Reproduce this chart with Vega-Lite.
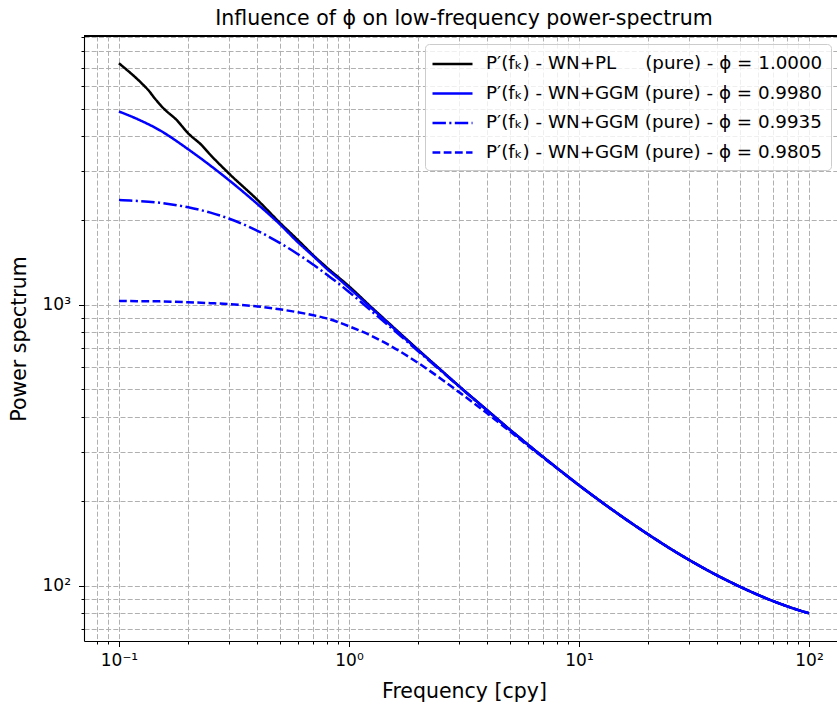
{
  "$schema": "https://vega.github.io/schema/vega-lite/v6.json",
  "width": 753,
  "height": 605,
  "autosize": {"type": "none"},
  "padding": {"left": 84, "top": 36, "right": 0, "bottom": 66},
  "background": "white",
  "config": {"view": {"stroke": null}, "font": "DejaVu Sans"},
  "title": {"text": "Influence of ϕ on low-frequency power-spectrum", "font": "DejaVu Sans", "fontSize": 20.5, "fontWeight": "normal", "color": "black", "offset": 8, "dx": 3.5, "dy": 9.5},
  "data": {"values": [
    {"s": "A", "f": 0.1, "P": 7245}, {"s": "A", "f": 0.1255, "P": 6150}, {"s": "A", "f": 0.134, "P": 5821}, {"s": "A", "f": 0.143, "P": 5439}, {"s": "A", "f": 0.156, "P": 5012}, {"s": "A", "f": 0.178, "P": 4553}, {"s": "A", "f": 0.2, "P": 4080}, {"s": "A", "f": 0.229, "P": 3700}, {"s": "A", "f": 0.249, "P": 3430}, {"s": "A", "f": 0.3, "P": 2942}, {"s": "A", "f": 0.4, "P": 2364}, {"s": "A", "f": 0.5, "P": 1963}, {"s": "A", "f": 0.6, "P": 1700}, {"s": "A", "f": 0.71, "P": 1485}, {"s": "A", "f": 0.8, "P": 1360}, {"s": "A", "f": 1, "P": 1165}, {"s": "A", "f": 1.25, "P": 982}, {"s": "A", "f": 1.5, "P": 857}, {"s": "A", "f": 2, "P": 692}, {"s": "A", "f": 2.5, "P": 588}, {"s": "A", "f": 3, "P": 515}, {"s": "A", "f": 4, "P": 421}, {"s": "A", "f": 5, "P": 360}, {"s": "A", "f": 6, "P": 318}, {"s": "A", "f": 8, "P": 263}, {"s": "A", "f": 10, "P": 228}, {"s": "A", "f": 13, "P": 194.4}, {"s": "A", "f": 16, "P": 172.3}, {"s": "A", "f": 20, "P": 152.3}, {"s": "A", "f": 25, "P": 135.4}, {"s": "A", "f": 30, "P": 123.8}, {"s": "A", "f": 40, "P": 108.7}, {"s": "A", "f": 50, "P": 99.3}, {"s": "A", "f": 60, "P": 92.8}, {"s": "A", "f": 70, "P": 88.1}, {"s": "A", "f": 80, "P": 84.6}, {"s": "A", "f": 90, "P": 81.9}, {"s": "A", "f": 100, "P": 79.8},
    {"s": "B", "f": 0.1, "P": 4880}, {"s": "B", "f": 0.12, "P": 4590}, {"s": "B", "f": 0.15, "P": 4190}, {"s": "B", "f": 0.2, "P": 3580}, {"s": "B", "f": 0.25, "P": 3130}, {"s": "B", "f": 0.3, "P": 2784}, {"s": "B", "f": 0.4, "P": 2285}, {"s": "B", "f": 0.5, "P": 1938}, {"s": "B", "f": 0.6, "P": 1670}, {"s": "B", "f": 0.7, "P": 1490}, {"s": "B", "f": 0.8, "P": 1345}, {"s": "B", "f": 0.9, "P": 1240}, {"s": "B", "f": 1, "P": 1150}, {"s": "B", "f": 1.25, "P": 975}, {"s": "B", "f": 1.5, "P": 852}, {"s": "B", "f": 2, "P": 689}, {"s": "B", "f": 2.5, "P": 587}, {"s": "B", "f": 3, "P": 514.5}, {"s": "B", "f": 4, "P": 420.5}, {"s": "B", "f": 5, "P": 359.5}, {"s": "B", "f": 6, "P": 318}, {"s": "B", "f": 8, "P": 263}, {"s": "B", "f": 10, "P": 228}, {"s": "B", "f": 13, "P": 194.4}, {"s": "B", "f": 16, "P": 172.3}, {"s": "B", "f": 20, "P": 152.3}, {"s": "B", "f": 25, "P": 135.4}, {"s": "B", "f": 30, "P": 123.8}, {"s": "B", "f": 40, "P": 108.7}, {"s": "B", "f": 50, "P": 99.3}, {"s": "B", "f": 60, "P": 92.8}, {"s": "B", "f": 70, "P": 88.1}, {"s": "B", "f": 80, "P": 84.6}, {"s": "B", "f": 90, "P": 81.9}, {"s": "B", "f": 100, "P": 79.8},
    {"s": "C", "f": 0.1, "P": 2360}, {"s": "C", "f": 0.12, "P": 2345}, {"s": "C", "f": 0.15, "P": 2310}, {"s": "C", "f": 0.2, "P": 2225}, {"s": "C", "f": 0.25, "P": 2130}, {"s": "C", "f": 0.3, "P": 2030}, {"s": "C", "f": 0.4, "P": 1835}, {"s": "C", "f": 0.5, "P": 1662}, {"s": "C", "f": 0.6, "P": 1515}, {"s": "C", "f": 0.7, "P": 1390}, {"s": "C", "f": 0.8, "P": 1282}, {"s": "C", "f": 0.9, "P": 1192}, {"s": "C", "f": 1, "P": 1112}, {"s": "C", "f": 1.25, "P": 952}, {"s": "C", "f": 1.5, "P": 838}, {"s": "C", "f": 2, "P": 684}, {"s": "C", "f": 2.5, "P": 584}, {"s": "C", "f": 3, "P": 513}, {"s": "C", "f": 4, "P": 419.5}, {"s": "C", "f": 5, "P": 359.5}, {"s": "C", "f": 6, "P": 318}, {"s": "C", "f": 8, "P": 263}, {"s": "C", "f": 10, "P": 228}, {"s": "C", "f": 13, "P": 194.4}, {"s": "C", "f": 16, "P": 172.3}, {"s": "C", "f": 20, "P": 152.3}, {"s": "C", "f": 25, "P": 135.4}, {"s": "C", "f": 30, "P": 123.8}, {"s": "C", "f": 40, "P": 108.7}, {"s": "C", "f": 50, "P": 99.3}, {"s": "C", "f": 60, "P": 92.8}, {"s": "C", "f": 70, "P": 88.1}, {"s": "C", "f": 80, "P": 84.6}, {"s": "C", "f": 90, "P": 81.9}, {"s": "C", "f": 100, "P": 79.8},
    {"s": "D", "f": 0.1, "P": 1033}, {"s": "D", "f": 0.12, "P": 1031}, {"s": "D", "f": 0.15, "P": 1029}, {"s": "D", "f": 0.2, "P": 1022}, {"s": "D", "f": 0.25, "P": 1014}, {"s": "D", "f": 0.3, "P": 1006}, {"s": "D", "f": 0.4, "P": 987}, {"s": "D", "f": 0.5, "P": 964}, {"s": "D", "f": 0.6, "P": 941}, {"s": "D", "f": 0.7, "P": 918}, {"s": "D", "f": 0.8, "P": 895}, {"s": "D", "f": 0.9, "P": 867}, {"s": "D", "f": 1, "P": 839}, {"s": "D", "f": 1.25, "P": 776}, {"s": "D", "f": 1.5, "P": 718}, {"s": "D", "f": 2, "P": 621}, {"s": "D", "f": 2.5, "P": 547}, {"s": "D", "f": 3, "P": 490}, {"s": "D", "f": 4, "P": 410}, {"s": "D", "f": 5, "P": 355}, {"s": "D", "f": 6, "P": 315}, {"s": "D", "f": 8, "P": 262.5}, {"s": "D", "f": 10, "P": 228}, {"s": "D", "f": 13, "P": 194.4}, {"s": "D", "f": 16, "P": 172.3}, {"s": "D", "f": 20, "P": 152.3}, {"s": "D", "f": 25, "P": 135.4}, {"s": "D", "f": 30, "P": 123.8}, {"s": "D", "f": 40, "P": 108.7}, {"s": "D", "f": 50, "P": 99.3}, {"s": "D", "f": 60, "P": 92.8}, {"s": "D", "f": 70, "P": 88.1}, {"s": "D", "f": 80, "P": 84.6}, {"s": "D", "f": 90, "P": 81.9}, {"s": "D", "f": 100, "P": 79.8}
  ]},
  "layer": [
    {
      "mark": {"type": "line", "strokeWidth": 2.5, "clip": true, "interpolate": "monotone"},
      "encoding": {
        "x": {"field": "f", "type": "quantitative",
          "scale": {"type": "log", "domain": [0.07046, 132.4], "nice": false, "zero": false},
          "axis": {
            "values": [0.08, 0.09, 0.1, 0.2, 0.3, 0.4, 0.5, 0.6, 0.7, 0.8, 0.9, 1, 2, 3, 4, 5, 6, 7, 8, 9, 10, 20, 30, 40, 50, 60, 70, 80, 90, 100],
            "labelExpr": "datum.value == 0.1 ? '10⁻¹' : datum.value == 1 ? '10⁰' : datum.value == 10 ? '10¹' : datum.value == 100 ? '10²' : ''",
            "labelFont": "DejaVu Sans", "labelFontSize": 17, "labelColor": "black", "labelPadding": 6, "labelFlush": false, "labelOverlap": false,
            "tickSize": {"condition": {"test": "datum.value == 0.1 || datum.value == 1 || datum.value == 10 || datum.value == 100", "value": 5.5}, "value": 3},
            "tickColor": "black", "tickWidth": 1,
            "domainColor": "black", "domainWidth": 1.1,
            "grid": true, "gridColor": "#b0b0b0", "gridDash": [5, 2.2], "gridWidth": 1,
            "title": "Frequency [cpy]", "titleFont": "DejaVu Sans", "titleFontSize": 20.5, "titleFontWeight": "normal", "titleColor": "black", "titlePadding": 13, "titleX": 380
          }
        },
        "y": {"field": "P", "type": "quantitative",
          "scale": {"type": "log", "domain": [63.56, 9063], "nice": false, "zero": false},
          "axis": {
            "values": [70, 80, 90, 100, 200, 300, 400, 500, 600, 700, 800, 900, 1000, 2000, 3000, 4000, 5000, 6000, 7000, 8000, 9000],
            "labelExpr": "datum.value == 100 ? '10²' : datum.value == 1000 ? '10³' : ''",
            "labelFont": "DejaVu Sans", "labelFontSize": 17, "labelColor": "black", "labelPadding": 8, "labelFlush": false, "labelOverlap": false,
            "tickSize": {"condition": {"test": "datum.value == 100 || datum.value == 1000", "value": 5.5}, "value": 3},
            "tickColor": "black", "tickWidth": 1,
            "domainColor": "black", "domainWidth": 1.1,
            "grid": true, "gridColor": "#b0b0b0", "gridDash": [5, 2.2], "gridWidth": 1,
            "title": "Power spectrum", "titleFont": "DejaVu Sans", "titleFontSize": 20.5, "titleFontWeight": "normal", "titleColor": "black", "titlePadding": 13
          }
        },
        "color": {"field": "s", "type": "nominal",
          "scale": {"domain": ["A", "B", "C", "D"], "range": ["#000000", "#0000ff", "#0000ff", "#0000ff"]},
          "legend": {"orient": "none", "legendX": 341, "legendY": 8, "title": null,
            "labelExpr": "datum.label == 'A' ? 'P′(fₖ) - WN+PL\u00a0\u00a0\u00a0\u00a0\u00a0(pure) - ϕ = 1.0000' : datum.label == 'B' ? 'P′(fₖ) - WN+GGM (pure) - ϕ = 0.9980' : datum.label == 'C' ? 'P′(fₖ) - WN+GGM (pure) - ϕ = 0.9935' : 'P′(fₖ) - WN+GGM (pure) - ϕ = 0.9805'",
            "labelFont": "DejaVu Sans", "labelFontSize": 18.3, "labelColor": "black", "labelLimit": 600, "labelOffset": 22, "symbolOffset": 7.5,
            "symbolType": "M-2,0H2", "symbolSize": 400, "symbolStrokeWidth": 2.5,
            "rowPadding": 9.5, "padding": 8.5, "strokeColor": "#cccccc", "fillColor": "rgba(255,255,255,0.8)", "cornerRadius": 4}
        },
        "strokeDash": {"field": "s", "type": "nominal",
          "scale": {"domain": ["A", "B", "C", "D"], "range": [[1, 0], [1, 0], [13.4, 3.4, 2.1, 3.4], [7.8, 3.4]]},
          "legend": {"orient": "none", "legendX": 341, "legendY": 8, "title": null,
            "labelExpr": "datum.label == 'A' ? 'P′(fₖ) - WN+PL\u00a0\u00a0\u00a0\u00a0\u00a0(pure) - ϕ = 1.0000' : datum.label == 'B' ? 'P′(fₖ) - WN+GGM (pure) - ϕ = 0.9980' : datum.label == 'C' ? 'P′(fₖ) - WN+GGM (pure) - ϕ = 0.9935' : 'P′(fₖ) - WN+GGM (pure) - ϕ = 0.9805'",
            "labelFont": "DejaVu Sans", "labelFontSize": 18.3, "labelColor": "black", "labelLimit": 600, "labelOffset": 22, "symbolOffset": 7.5,
            "symbolType": "M-2,0H2", "symbolSize": 400, "symbolStrokeWidth": 2.5,
            "rowPadding": 9.5, "padding": 8.5, "strokeColor": "#cccccc", "fillColor": "rgba(255,255,255,0.8)", "cornerRadius": 4}
        }
      }
    },
    {
      "mark": {"type": "rule", "color": "black", "strokeWidth": 1.1},
      "encoding": {"y": {"datum": 9063}}
    }
  ]
}
